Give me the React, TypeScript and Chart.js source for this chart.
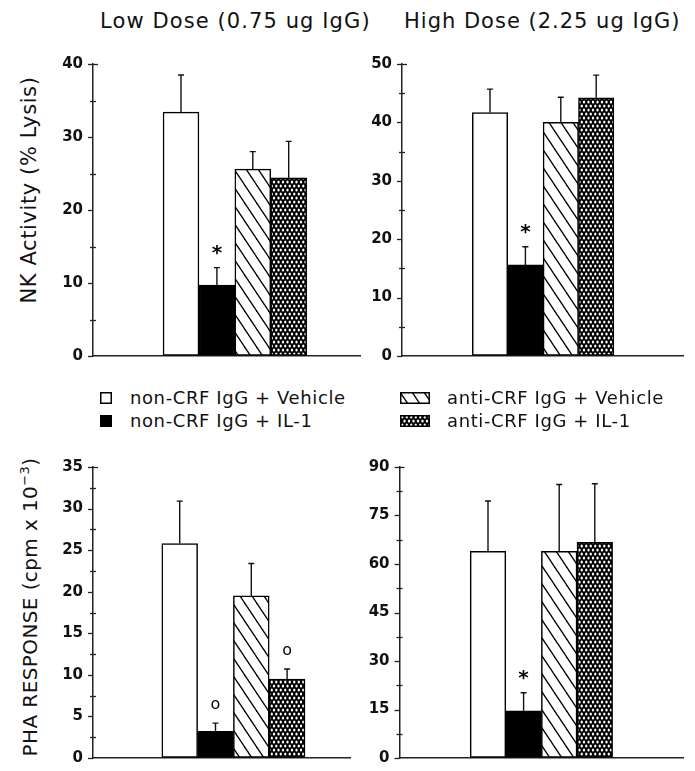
import React, { useEffect, useRef } from 'react';
import { Chart, registerables } from 'chart.js';

Chart.register(...registerables);

// ---------------- data ----------------
const groups = [
  'non-CRF IgG + Vehicle',
  'non-CRF IgG + IL-1',
  'anti-CRF IgG + Vehicle',
  'anti-CRF IgG + IL-1',
];
const columnTitles = ['Low Dose (0.75 ug IgG)', 'High Dose (2.25 ug IgG)'];
const nkAxisTitle = 'NK Activity (% Lysis)';

const nkLowMeans = [33.4, 9.7, 25.6, 24.4];
const nkLowErrors = [5.1, 2.4, 2.4, 5.0];
const nkLowMarks = ['', '*', '', ''];
const nkLowTickLabels = [0, 10, 20, 30, 40];

const nkHighMeans = [41.7, 15.6, 40.0, 44.2];
const nkHighErrors = [4.0, 3.1, 4.3, 3.9];
const nkHighMarks = ['', '*', '', ''];
const nkHighTickLabels = [0, 10, 20, 30, 40, 50];

const phaLowMeans = [25.8, 3.2, 19.5, 9.5];
const phaLowErrors = [5.1, 1.0, 3.9, 1.2];
const phaLowMarks = ['', 'o', '', 'o'];
const phaLowTickLabels = [0, 5, 10, 15, 20, 25, 30, 35];

const phaHighMeans = [63.9, 14.6, 63.9, 66.7];
const phaHighErrors = [15.6, 5.6, 20.7, 18.1];
const phaHighMarks = ['', '*', '', ''];
const phaHighTickLabels = [0, 15, 30, 45, 60, 75, 90];

// ---------------- styles / patterns ----------------
const FONT = '"DejaVu Sans", Verdana, sans-serif';

function makeHatch(ctx: CanvasRenderingContext2D) {
  const c = document.createElement('canvas');
  c.width = 12;
  c.height = 18;
  const g = c.getContext('2d')!;
  g.fillStyle = '#fff';
  g.fillRect(0, 0, 12, 18);
  g.strokeStyle = '#000';
  g.lineWidth = 1.3;
  for (let k = -1; k <= 1; k++) {
    g.beginPath();
    g.moveTo(k * 12 - 12, -18);
    g.lineTo(k * 12 + 24, 36);
    g.stroke();
  }
  return ctx.createPattern(c, 'repeat')!;
}

function makeDots(ctx: CanvasRenderingContext2D) {
  const c = document.createElement('canvas');
  c.width = 9;
  c.height = 8;
  const g = c.getContext('2d')!;
  g.fillStyle = '#000';
  g.fillRect(0, 0, 9, 8);
  g.fillStyle = '#fff';
  const pts = [
    [2.25, 2], [6.75, 2], [0, 6], [4.5, 6], [9, 6], [2.25, 10], [6.75, 10], [2.25, -2], [6.75, -2],
  ];
  for (const [x, y] of pts) {
    g.beginPath();
    g.ellipse(x, y, 1.2, 1.55, 0, 0, Math.PI * 2);
    g.fill();
  }
  return ctx.createPattern(c, 'repeat')!;
}

function fillsFor(ctx: CanvasRenderingContext2D) {
  return ['#ffffff', '#000000', makeHatch(ctx), makeDots(ctx)];
}

// ---------------- plugins ----------------
const errorBarPlugin = {
  id: 'errorBars',
  afterDatasetsDraw(chart: any) {
    const ctx = chart.ctx;
    const ds = chart.data.datasets[0];
    const meta = chart.getDatasetMeta(0);
    const yScale = chart.scales.y;
    meta.data.forEach((bar: any, i: number) => {
      const v = ds.data[i].y;
      const e = ds.errors[i];
      const top = yScale.getPixelForValue(v + e);
      ctx.save();
      ctx.strokeStyle = '#111';
      ctx.lineWidth = 1.4;
      ctx.beginPath();
      ctx.moveTo(bar.x, bar.y);
      ctx.lineTo(bar.x, top);
      ctx.moveTo(bar.x - 3, top);
      ctx.lineTo(bar.x + 3, top);
      ctx.stroke();
      const mark = ds.marks[i];
      if (mark) {
        ctx.fillStyle = '#000';
        ctx.textAlign = 'center';
        ctx.textBaseline = 'middle';
        ctx.font = mark === '*' ? `bold 20px ${FONT}` : `16px ${FONT}`;
        ctx.fillText(mark, bar.x, top - (mark === '*' ? 14 : 18));
      }
      ctx.restore();
    });
  },
};

const yTickPlugin = {
  id: 'yTickMarks',
  afterDraw(chart: any) {
    const y = chart.scales.y;
    const ax = chart.chartArea.left;
    const majors: number[] = chart.options.plugins.yTickMarks.majors;
    const ctx = chart.ctx;
    ctx.save();
    ctx.strokeStyle = '#222';
    ctx.lineWidth = 1.3;
    y.ticks.forEach((t: any, i: number) => {
      const py = Math.round(y.getPixelForTick(i)) + 0.5;
      const isMajor = majors.includes(t.value);
      const isTop = t.value === y.max;
      const l = isMajor ? 5 : 3;
      const r = isMajor ? (isTop ? 5 : 0) : 3;
      ctx.beginPath();
      ctx.moveTo(ax - l, py);
      ctx.lineTo(ax + r, py);
      ctx.stroke();
    });
    ctx.restore();
  },
};

// ---------------- panels ----------------
type PanelSpec = {
  means: number[];
  errors: number[];
  marks: string[];
  tickLabels: number[];
  minorStep: number;
  left: number; top: number; w: number; h: number;
  axisLeft: number; areaTop: number; areaBottom: number; areaRight: number;
  firstCenter: number; unit: number;
};

const panels: PanelSpec[] = [
  {
    means: nkLowMeans, errors: nkLowErrors, marks: nkLowMarks, tickLabels: nkLowTickLabels, minorStep: 5,
    left: 40, top: 40, w: 330, h: 330,
    axisLeft: 93, areaTop: 64, areaBottom: 356, areaRight: 360, firstCenter: 181, unit: 35.9,
  },
  {
    means: nkHighMeans, errors: nkHighErrors, marks: nkHighMarks, tickLabels: nkHighTickLabels, minorStep: 5,
    left: 350, top: 40, w: 345, h: 330,
    axisLeft: 402, areaTop: 64, areaBottom: 356, areaRight: 683, firstCenter: 490, unit: 35.4,
  },
  {
    means: phaLowMeans, errors: phaLowErrors, marks: phaLowMarks, tickLabels: phaLowTickLabels, minorStep: 2.5,
    left: 40, top: 440, w: 320, h: 331,
    axisLeft: 93, areaTop: 467, areaBottom: 760, areaRight: 350, firstCenter: 179.7, unit: 35.8,
  },
  {
    means: phaHighMeans, errors: phaHighErrors, marks: phaHighMarks, tickLabels: phaHighTickLabels, minorStep: 7.5,
    left: 350, top: 440, w: 345, h: 331,
    axisLeft: 399.5, areaTop: 467, areaBottom: 760, areaRight: 683, firstCenter: 488, unit: 35.6,
  },
];

function Panel({ spec }: { spec: PanelSpec }) {
  const ref = useRef<HTMLCanvasElement>(null);
  useEffect(() => {
    const canvas = ref.current!;
    const ctx = canvas.getContext('2d')!;
    const fills = fillsFor(ctx);
    const yMax = spec.tickLabels[spec.tickLabels.length - 1];
    const xMin = 1 - (spec.firstCenter - spec.axisLeft) / spec.unit;
    const xMax = 1 + (spec.areaRight - spec.firstCenter) / spec.unit;
    const yWidth = spec.axisLeft - spec.left;
    const chart = new Chart(canvas, {
      type: 'bar',
      data: {
        datasets: [
          {
            label: 'groups',
            data: spec.means.map((m, i) => ({ x: i + 1, y: m })),
            errors: spec.errors,
            marks: spec.marks,
            backgroundColor: fills,
            borderColor: '#000',
            borderWidth: 1.5,
            borderSkipped: false,
            barPercentage: 1,
            categoryPercentage: 1,
          } as any,
        ],
      },
      options: {
        animation: false,
        responsive: false,
        events: [],
        layout: {
          padding: {
            left: 0,
            top: spec.areaTop - spec.top,
            right: spec.left + spec.w - spec.areaRight,
            bottom: spec.top + spec.h - spec.areaBottom,
          },
        },
        plugins: {
          legend: { display: false },
          tooltip: { enabled: false },
          yTickMarks: { majors: spec.tickLabels },
        } as any,
        scales: {
          x: {
            type: 'linear',
            bounds: 'data',
            offset: false,
            min: xMin,
            max: xMax,
            ticks: { display: false },
            grid: { display: false, offset: false },
            border: { display: true, color: '#222', width: 1.5 },
            afterBuildTicks: (scale: any) => {
              scale.ticks = spec.means.map((_, i) => ({ value: i + 1 }));
            },
            afterFit: (scale: any) => {
              scale.height = 0;
            },
          },
          y: {
            type: 'linear',
            min: 0,
            max: yMax,
            ticks: {
              stepSize: spec.minorStep,
              autoSkip: false,
              padding: 4,
              color: '#111',
              font: { family: FONT, size: 15, weight: 'bold' },
              callback: (v: any) => (spec.tickLabels.includes(Number(v)) ? String(v) : ''),
            },
            grid: {
              display: true,
              drawOnChartArea: false,
              drawTicks: true,
              tickLength: 6,
              tickColor: 'rgba(0,0,0,0)',
            },
            border: { display: true, color: '#222', width: 1.5 },
            afterFit: (scale: any) => {
              scale.width = yWidth;
            },
          },
        },
      },
      plugins: [errorBarPlugin, yTickPlugin],
    } as any);
    return () => chart.destroy();
  }, [spec]);
  return (
    <canvas
      ref={ref}
      width={spec.w}
      height={spec.h}
      style={{ position: 'absolute', left: spec.left, top: spec.top }}
    />
  );
}

function Swatch({ kind, w, h }: { kind: number; w: number; h: number }) {
  const ref = useRef<HTMLCanvasElement>(null);
  useEffect(() => {
    const c = ref.current!;
    const ctx = c.getContext('2d')!;
    const fills = fillsFor(ctx);
    ctx.clearRect(0, 0, w, h);
    ctx.fillStyle = fills[kind] as any;
    ctx.fillRect(0, 0, w, h);
    ctx.strokeStyle = '#000';
    ctx.lineWidth = 1.5;
    ctx.strokeRect(0.75, 0.75, w - 1.5, h - 1.5);
  }, [kind, w, h]);
  return <canvas ref={ref} width={w} height={h} style={{ position: 'absolute', left: 0, top: -h / 2 }} />;
}

const legendPos = [
  { x: 100, y: 398, sw: 12, tx: 130 },
  { x: 100, y: 421, sw: 12, tx: 130 },
  { x: 400, y: 398, sw: 30, tx: 447 },
  { x: 400, y: 421, sw: 30, tx: 447 },
];

export default function App() {
  const textBase: React.CSSProperties = {
    position: 'absolute',
    fontFamily: FONT,
    color: '#111',
    whiteSpace: 'nowrap',
    lineHeight: 1,
  };
  return (
    <div style={{ position: 'absolute', left: 0, top: 0, width: 695, height: 771, background: '#fff', overflow: 'hidden' }}>
      <div style={{ ...textBase, left: 100, top: 11, fontSize: 21, letterSpacing: 1.1 }}>{columnTitles[0]}</div>
      <div style={{ ...textBase, left: 404, top: 11, fontSize: 21, letterSpacing: 1.0 }}>{columnTitles[1]}</div>

      <div style={{ ...textBase, left: 29, top: 190, fontSize: 21, letterSpacing: 0.6, transform: 'translate(-50%, -50%) rotate(-90deg)' }}>
        {nkAxisTitle}
      </div>
      <div style={{ ...textBase, left: 30, top: 607, fontSize: 20, letterSpacing: 0.4, transform: 'translate(-50%, -50%) rotate(-90deg)' }}>
        PHA RESPONSE (cpm x 10<sup style={{ fontSize: 13, verticalAlign: 'super', lineHeight: 0 }}>−3</sup>)
      </div>

      {panels.map((p, i) => (
        <Panel key={i} spec={p} />
      ))}

      {groups.map((g, i) => {
        const lp = legendPos[i];
        return (
          <React.Fragment key={g}>
            <div style={{ position: 'absolute', left: lp.x, top: lp.y, width: lp.sw, height: 0 }}>
              <Swatch kind={i} w={lp.sw} h={12} />
            </div>
            <div style={{ ...textBase, left: lp.tx, top: lp.y, fontSize: 18, letterSpacing: 0.6, transform: 'translateY(-50%)' }}>{g}</div>
          </React.Fragment>
        );
      })}
    </div>
  );
}
